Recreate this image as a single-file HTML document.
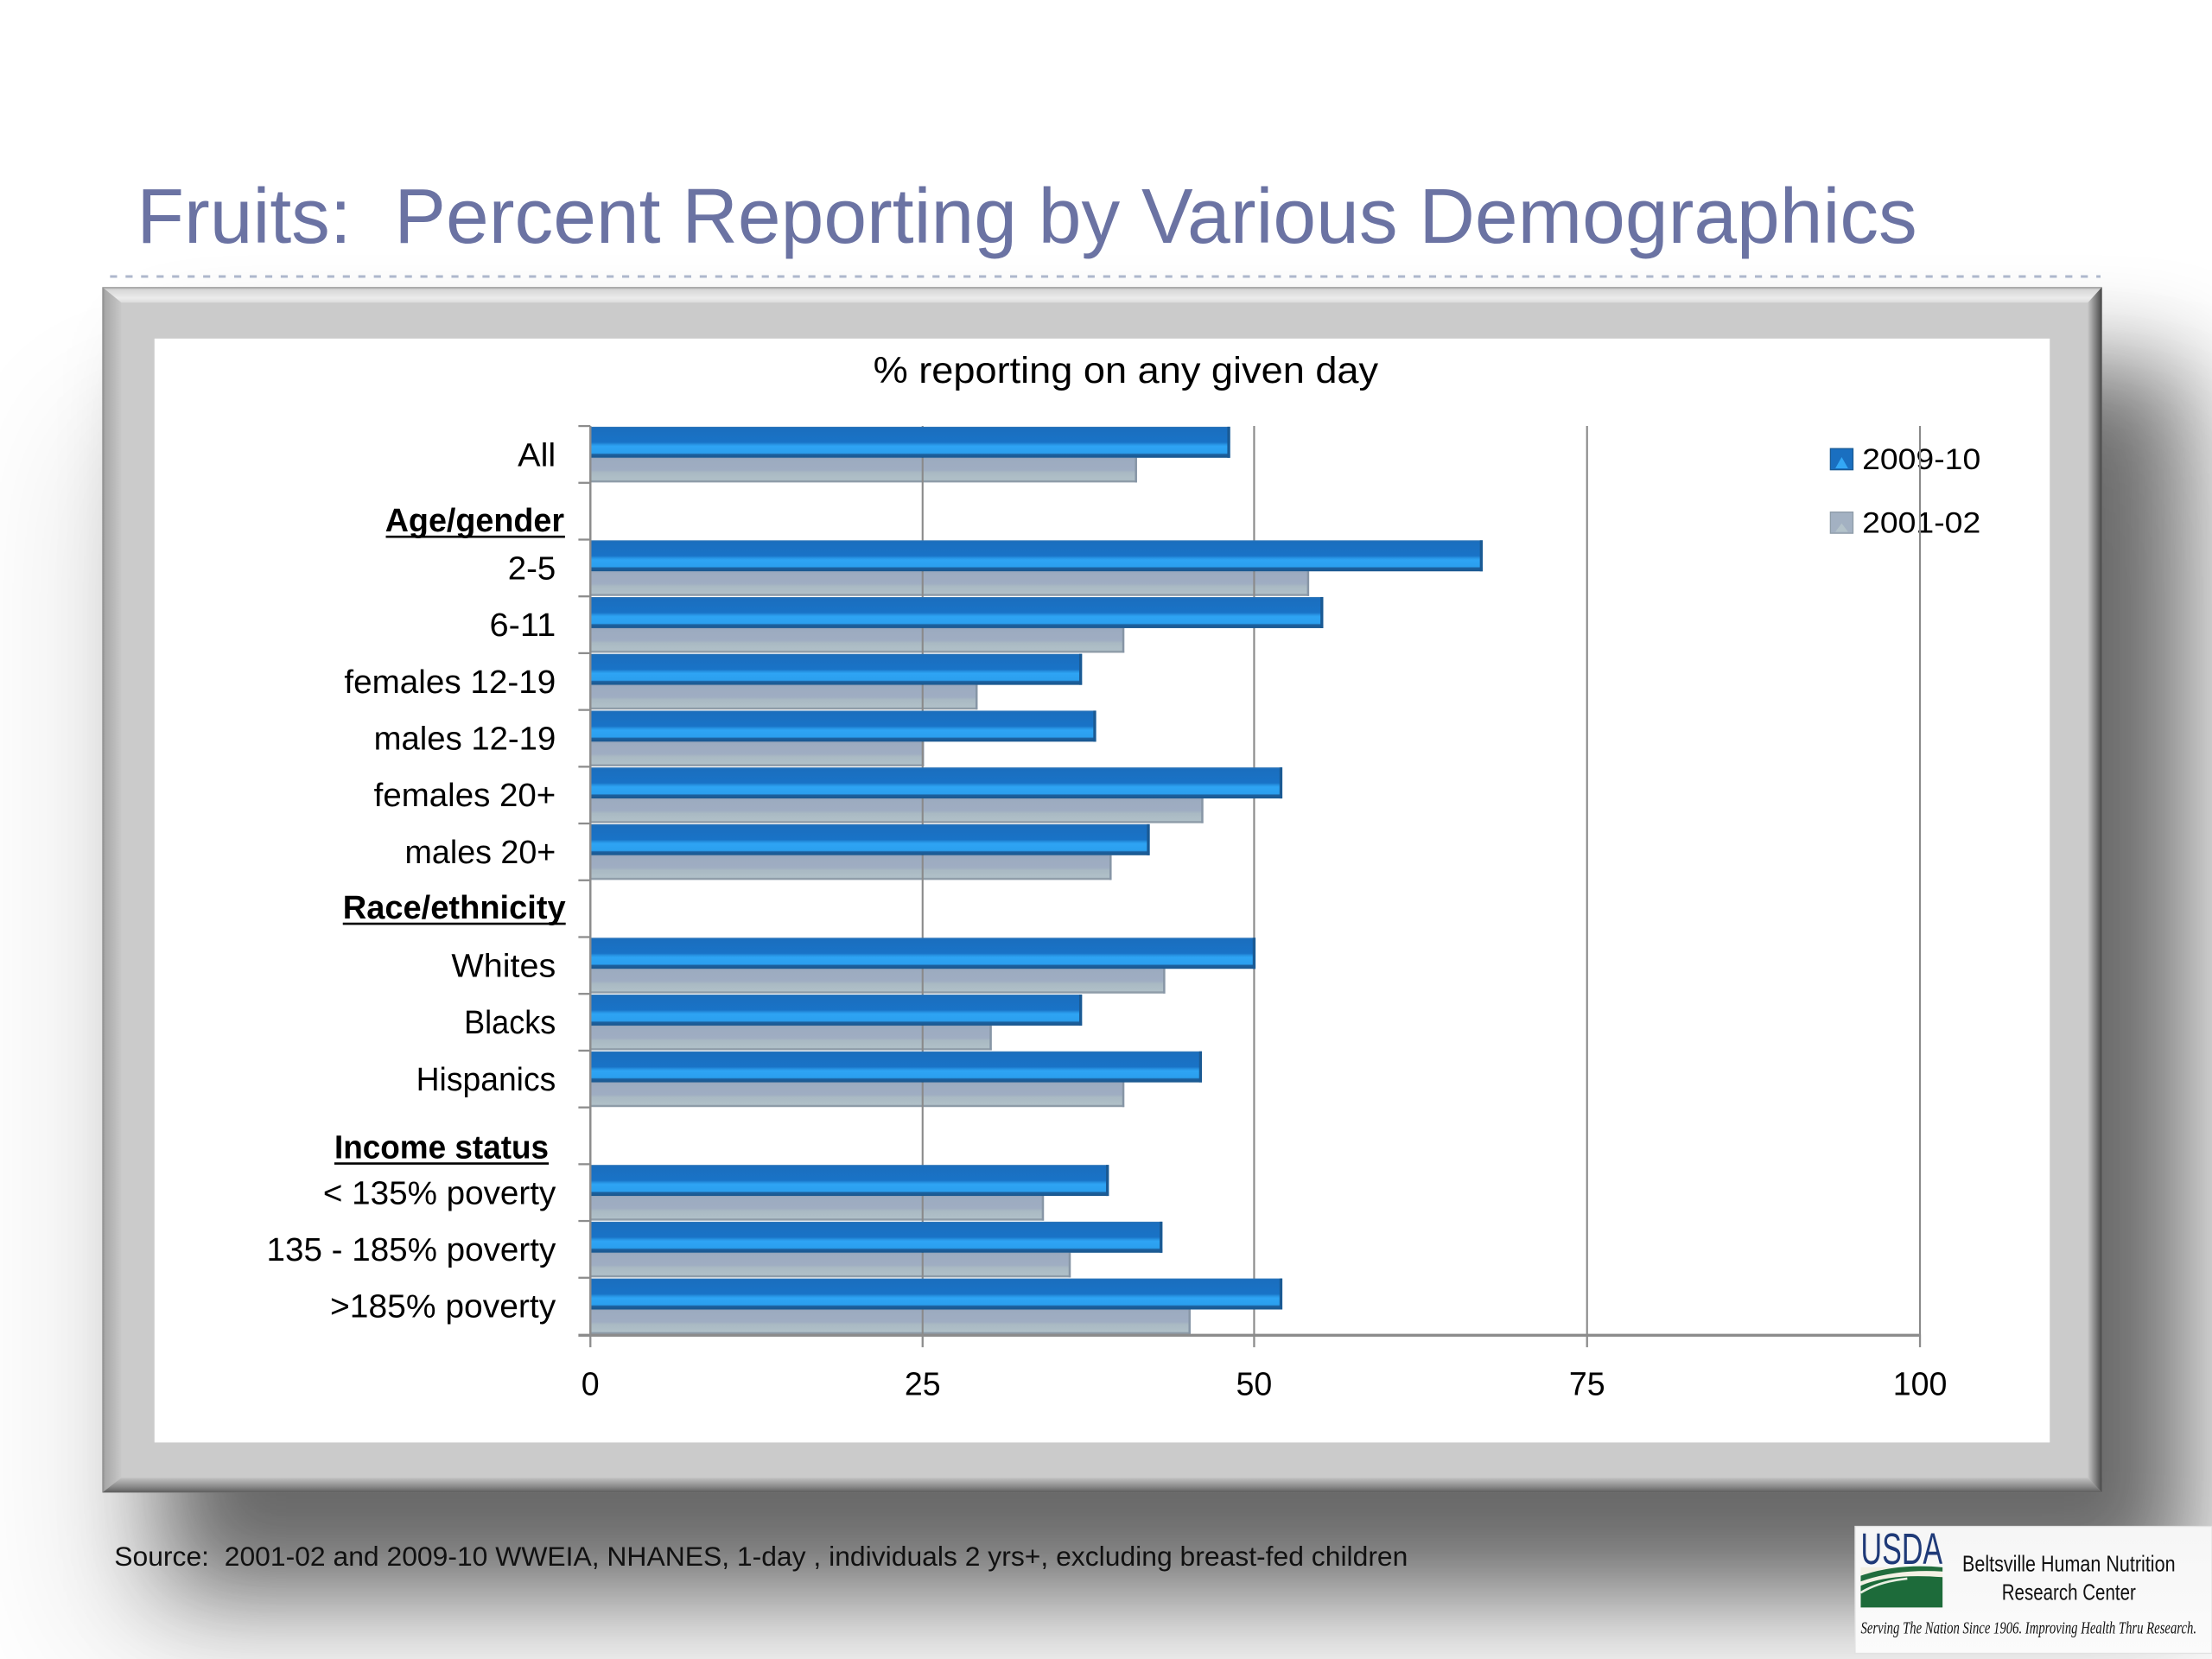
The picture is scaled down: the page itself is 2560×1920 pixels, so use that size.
<!DOCTYPE html>
<html>
<head>
<meta charset="utf-8">
<style>
html,body{margin:0;padding:0;background:#fff;}
svg{display:block;}
text{font-family:"Liberation Sans",sans-serif;}
</style>
</head>
<body>
<svg width="2560" height="1920" viewBox="0 0 1568 1176" xmlns="http://www.w3.org/2000/svg">
<defs>
  <filter id="sh" x="-25%" y="-25%" width="150%" height="150%"><feGaussianBlur stdDeviation="35"/></filter>
  <filter id="sh2" x="-25%" y="-25%" width="150%" height="150%"><feGaussianBlur stdDeviation="55"/></filter>
  <linearGradient id="gTop" x1="0" y1="0" x2="0" y2="1">
    <stop offset="0" stop-color="#8f8f8f"/><stop offset="0.15" stop-color="#d6d6d6"/>
    <stop offset="0.7" stop-color="#ececec"/><stop offset="1" stop-color="#dcdcdc"/>
  </linearGradient>
  <linearGradient id="gLeft" x1="0" y1="0" x2="1" y2="0">
    <stop offset="0" stop-color="#8a8a8a"/><stop offset="0.15" stop-color="#a8a8a8"/><stop offset="1" stop-color="#c8c8c8"/>
  </linearGradient>
  <linearGradient id="gRight" x1="0" y1="0" x2="1" y2="0">
    <stop offset="0" stop-color="#c6c6c6"/><stop offset="0.6" stop-color="#7a7a7a"/><stop offset="1" stop-color="#464646"/>
  </linearGradient>
  <linearGradient id="gBot" x1="0" y1="0" x2="0" y2="1">
    <stop offset="0" stop-color="#c2c2c2"/><stop offset="0.6" stop-color="#8a8a8a"/><stop offset="1" stop-color="#5c5c5c"/>
  </linearGradient>
  <linearGradient id="gBlue" x1="0" y1="0" x2="0" y2="1">
    <stop offset="0" stop-color="#3478b6"/><stop offset="0.05" stop-color="#1a6ebe"/>
    <stop offset="0.5" stop-color="#1973c7"/><stop offset="0.57" stop-color="#2793e3"/>
    <stop offset="0.63" stop-color="#2ea4f4"/><stop offset="0.85" stop-color="#2b9fee"/>
    <stop offset="0.89" stop-color="#1c609e"/><stop offset="1" stop-color="#1a578e"/>
  </linearGradient>
  <linearGradient id="gGrey" x1="0" y1="0" x2="0" y2="1">
    <stop offset="0" stop-color="#93a2b7"/><stop offset="0.06" stop-color="#9cabc0"/>
    <stop offset="0.5" stop-color="#9fadc2"/><stop offset="0.6" stop-color="#a9b9c3"/>
    <stop offset="0.9" stop-color="#b0c0c8"/><stop offset="0.93" stop-color="#8e9ca8"/>
    <stop offset="1" stop-color="#8e9ca8"/>
  </linearGradient>
  <linearGradient id="gLogo" x1="0" y1="0" x2="0" y2="1">
    <stop offset="0" stop-color="#f6f6f6"/><stop offset="1" stop-color="#fbfbfb"/>
  </linearGradient>
</defs>

<!-- background -->
<rect x="0" y="0" width="1568" height="1176" fill="#ffffff"/>

<!-- shadows -->
<rect x="60" y="300" width="1520" height="870" fill="#000" opacity="0.11" filter="url(#sh2)"/>
<rect x="118" y="258" width="1430" height="870" fill="#000" opacity="0.54" filter="url(#sh)"/>

<!-- title -->
<text x="97" y="172" font-size="55" fill="#6b73a3" textLength="1262" lengthAdjust="spacingAndGlyphs" style="white-space:pre">Fruits:  Percent Reporting by Various Demographics</text>

<!-- dashed separator -->
<line x1="78" y1="196" x2="1489" y2="196" stroke="#aeb7cc" stroke-width="1.8" stroke-dasharray="5 6"/>

<!-- frame -->
<rect x="72.5" y="203.5" width="1417.5" height="854.5" fill="#cbcbcb"/>
<polygon points="72.5,203.5 1490,203.5 1480,214.5 86,214.5" fill="url(#gTop)"/>
<polygon points="72.5,203.5 86,214.5 86,1047.5 72.5,1058" fill="url(#gLeft)"/>
<polygon points="1490,203.5 1480,214.5 1480,1047.5 1490,1058" fill="url(#gRight)"/>
<polygon points="72.5,1058 86,1047.5 1480,1047.5 1490,1058" fill="url(#gBot)"/>
<rect x="109.5" y="240" width="1343.5" height="782.5" fill="#ffffff"/>

<!-- chart title -->
<text x="619" y="271.5" font-size="26" fill="#000" textLength="358" lengthAdjust="spacingAndGlyphs">% reporting on any given day</text>

<!-- legend -->
<rect x="1297.5" y="318" width="16" height="15" fill="#1a6fc0" stroke="#1a5a94" stroke-width="0.8"/>
<polygon points="1301,332 1305.5,324 1310,332" fill="#33a8f5"/>
<text x="1320" y="332.5" font-size="21" fill="#000" textLength="84" lengthAdjust="spacingAndGlyphs">2009-10</text>
<rect x="1297.5" y="363" width="16" height="15" fill="#a3b1c2" stroke="#8e9ca8" stroke-width="0.8"/>
<polygon points="1301,377 1305.5,371 1310,377" fill="#b4c3ca"/>
<text x="1320" y="377.7" font-size="21" fill="#000" textLength="84" lengthAdjust="spacingAndGlyphs">2001-02</text>

<!-- grey bars (2001-02) -->
<g fill="url(#gGrey)">
  <rect x="418.5" y="324.5" width="387.5" height="17.5"/>
  <rect x="418.5" y="405" width="509.5" height="17.5"/>
  <rect x="418.5" y="445.25" width="378.5" height="17.5"/>
  <rect x="418.5" y="485.5" width="274.5" height="17.5"/>
  <rect x="418.5" y="525.75" width="236.5" height="17.5"/>
  <rect x="418.5" y="566" width="434.5" height="17.5"/>
  <rect x="418.5" y="606.25" width="369.5" height="17.5"/>
  <rect x="418.5" y="686.75" width="407.5" height="17.5"/>
  <rect x="418.5" y="727" width="284.5" height="17.5"/>
  <rect x="418.5" y="767.25" width="378.5" height="17.5"/>
  <rect x="418.5" y="847.75" width="321.5" height="17.5"/>
  <rect x="418.5" y="888" width="340.5" height="17.5"/>
  <rect x="418.5" y="928.25" width="425.5" height="17.5"/>
</g>
<g fill="#8796a6">
  <rect x="804.5" y="324.5" width="1.5" height="17.5"/>
  <rect x="926.5" y="405" width="1.5" height="17.5"/>
  <rect x="795.5" y="445.25" width="1.5" height="17.5"/>
  <rect x="691.5" y="485.5" width="1.5" height="17.5"/>
  <rect x="653.5" y="525.75" width="1.5" height="17.5"/>
  <rect x="851.5" y="566" width="1.5" height="17.5"/>
  <rect x="786.5" y="606.25" width="1.5" height="17.5"/>
  <rect x="824.5" y="686.75" width="1.5" height="17.5"/>
  <rect x="701.5" y="727" width="1.5" height="17.5"/>
  <rect x="795.5" y="767.25" width="1.5" height="17.5"/>
  <rect x="738.5" y="847.75" width="1.5" height="17.5"/>
  <rect x="757.5" y="888" width="1.5" height="17.5"/>
  <rect x="842.5" y="928.25" width="1.5" height="17.5"/>
</g>

<!-- gridlines -->
<g stroke="#8a8a8a" stroke-width="1.3">
  <line x1="654" y1="302" x2="654" y2="946"/>
  <line x1="889" y1="302" x2="889" y2="946"/>
  <line x1="1125" y1="302" x2="1125" y2="946"/>
  <line x1="1361" y1="302" x2="1361" y2="946"/>
</g>

<!-- blue bars (2009-10) -->
<g fill="url(#gBlue)">
  <rect x="418.5" y="302.5" width="453.5" height="22"/>
  <rect x="418.5" y="383" width="632.5" height="22"/>
  <rect x="418.5" y="423.25" width="519.5" height="22"/>
  <rect x="418.5" y="463.5" width="348.5" height="22"/>
  <rect x="418.5" y="503.75" width="358.5" height="22"/>
  <rect x="418.5" y="544" width="490.5" height="22"/>
  <rect x="418.5" y="584.25" width="396.5" height="22"/>
  <rect x="418.5" y="664.75" width="471.5" height="22"/>
  <rect x="418.5" y="705" width="348.5" height="22"/>
  <rect x="418.5" y="745.25" width="433.5" height="22"/>
  <rect x="418.5" y="825.75" width="367.5" height="22"/>
  <rect x="418.5" y="866" width="405.5" height="22"/>
  <rect x="418.5" y="906.25" width="490.5" height="22"/>
</g>
<g fill="#1a5a94">
  <rect x="870" y="302.5" width="2" height="22"/>
  <rect x="1049" y="383" width="2" height="22"/>
  <rect x="936" y="423.25" width="2" height="22"/>
  <rect x="765" y="463.5" width="2" height="22"/>
  <rect x="775" y="503.75" width="2" height="22"/>
  <rect x="907" y="544" width="2" height="22"/>
  <rect x="813" y="584.25" width="2" height="22"/>
  <rect x="888" y="664.75" width="2" height="22"/>
  <rect x="765" y="705" width="2" height="22"/>
  <rect x="850" y="745.25" width="2" height="22"/>
  <rect x="784" y="825.75" width="2" height="22"/>
  <rect x="822" y="866" width="2" height="22"/>
  <rect x="907" y="906.25" width="2" height="22"/>
</g>

<!-- axes -->
<line x1="418.5" y1="302" x2="418.5" y2="947" stroke="#8c8c8c" stroke-width="1.5"/>
<line x1="410" y1="946.5" x2="1361" y2="946.5" stroke="#8c8c8c" stroke-width="2"/>
<g stroke="#8c8c8c" stroke-width="1.4">
  <line x1="410" y1="302" x2="418.5" y2="302"/>
  <line x1="410" y1="342.25" x2="418.5" y2="342.25"/>
  <line x1="410" y1="382.5" x2="418.5" y2="382.5"/>
  <line x1="410" y1="422.75" x2="418.5" y2="422.75"/>
  <line x1="410" y1="463" x2="418.5" y2="463"/>
  <line x1="410" y1="503.25" x2="418.5" y2="503.25"/>
  <line x1="410" y1="543.5" x2="418.5" y2="543.5"/>
  <line x1="410" y1="583.75" x2="418.5" y2="583.75"/>
  <line x1="410" y1="624" x2="418.5" y2="624"/>
  <line x1="410" y1="664.25" x2="418.5" y2="664.25"/>
  <line x1="410" y1="704.5" x2="418.5" y2="704.5"/>
  <line x1="410" y1="744.75" x2="418.5" y2="744.75"/>
  <line x1="410" y1="785" x2="418.5" y2="785"/>
  <line x1="410" y1="825.25" x2="418.5" y2="825.25"/>
  <line x1="410" y1="865.5" x2="418.5" y2="865.5"/>
  <line x1="410" y1="905.75" x2="418.5" y2="905.75"/>
  <line x1="418.5" y1="946" x2="418.5" y2="955"/>
  <line x1="654" y1="946" x2="654" y2="955"/>
  <line x1="889" y1="946" x2="889" y2="955"/>
  <line x1="1125" y1="946" x2="1125" y2="955"/>
  <line x1="1361" y1="946" x2="1361" y2="955"/>
</g>

<!-- x tick labels -->
<g font-size="23" fill="#000" text-anchor="middle">
  <text x="418.5" y="989">0</text>
  <text x="654" y="989">25</text>
  <text x="889" y="989">50</text>
  <text x="1125" y="989">75</text>
  <text x="1361" y="989">100</text>
</g>

<!-- category labels -->
<g font-size="23" fill="#000" text-anchor="end">
  <text x="394" y="330.5" textLength="27" lengthAdjust="spacingAndGlyphs">All</text>
  <text x="394" y="410.6" textLength="34" lengthAdjust="spacingAndGlyphs">2-5</text>
  <text x="394" y="450.9" textLength="47" lengthAdjust="spacingAndGlyphs">6-11</text>
  <text x="394" y="491.1" textLength="150" lengthAdjust="spacingAndGlyphs">females 12-19</text>
  <text x="394" y="531.4" textLength="129" lengthAdjust="spacingAndGlyphs">males 12-19</text>
  <text x="394" y="571.6" textLength="129" lengthAdjust="spacingAndGlyphs">females 20+</text>
  <text x="394" y="611.9" textLength="107" lengthAdjust="spacingAndGlyphs">males 20+</text>
  <text x="394" y="692.4" textLength="74" lengthAdjust="spacingAndGlyphs">Whites</text>
  <text x="394" y="732.6" textLength="65" lengthAdjust="spacingAndGlyphs">Blacks</text>
  <text x="394" y="772.9" textLength="99" lengthAdjust="spacingAndGlyphs">Hispanics</text>
  <text x="394" y="853.4" textLength="165" lengthAdjust="spacingAndGlyphs" style="white-space:pre">&lt; 135% poverty</text>
  <text x="394" y="893.6" textLength="205" lengthAdjust="spacingAndGlyphs" style="white-space:pre">135 - 185% poverty</text>
  <text x="394" y="933.9" textLength="160" lengthAdjust="spacingAndGlyphs">&gt;185% poverty</text>
</g>
<g font-size="23" font-weight="bold" fill="#000" text-anchor="end">
  <text x="400" y="376.7" textLength="127" lengthAdjust="spacingAndGlyphs">Age/gender</text>
  <text x="401" y="651" textLength="158" lengthAdjust="spacingAndGlyphs">Race/ethnicity</text>
  <text x="389" y="821" textLength="152" lengthAdjust="spacingAndGlyphs">Income status</text>
</g>
<g stroke="#000" stroke-width="1.6">
  <line x1="273.5" y1="380.5" x2="400.5" y2="380.5"/>
  <line x1="243" y1="654.8" x2="401" y2="654.8"/>
  <line x1="237" y1="824.8" x2="389" y2="824.8"/>
</g>

<!-- source -->
<text x="81" y="1110" font-size="19.5" fill="#111" textLength="917" lengthAdjust="spacingAndGlyphs" style="white-space:pre">Source:  2001-02 and 2009-10 WWEIA, NHANES, 1-day , individuals 2 yrs+, excluding breast-fed children</text>

<!-- logo -->
<rect x="1315" y="1082" width="253" height="90" fill="url(#gLogo)" stroke="#e2e2e2" stroke-width="0.8"/>
<text x="1319" y="1108.5" font-size="31" fill="#1f3a78" textLength="58" lengthAdjust="spacingAndGlyphs">USDA</text>
<rect x="1319" y="1111" width="58" height="28.5" fill="#f4f1e4"/>
<path d="M1319 1117 Q1345 1108 1377 1111 L1377 1114 Q1345 1112 1319 1121 Z" fill="#226d3d"/>
<path d="M1319 1124 Q1340 1115 1377 1118 L1377 1139.5 L1319 1139.5 Z" fill="#1d6b3a"/>
<path d="M1319 1129 Q1332 1121 1352 1119" stroke="#e8efe2" stroke-width="1.6" fill="none"/>
<text x="1391" y="1113.7" font-size="16" fill="#111" textLength="151" lengthAdjust="spacingAndGlyphs">Beltsville Human Nutrition</text>
<text x="1419" y="1134" font-size="16" fill="#111" textLength="95" lengthAdjust="spacingAndGlyphs">Research Center</text>
<text x="1319" y="1158" font-size="12.5" font-style="italic" fill="#111" style="font-family:'Liberation Serif',serif" textLength="238" lengthAdjust="spacingAndGlyphs">Serving The Nation Since 1906. Improving Health Thru Research.</text>
</svg>
</body>
</html>
